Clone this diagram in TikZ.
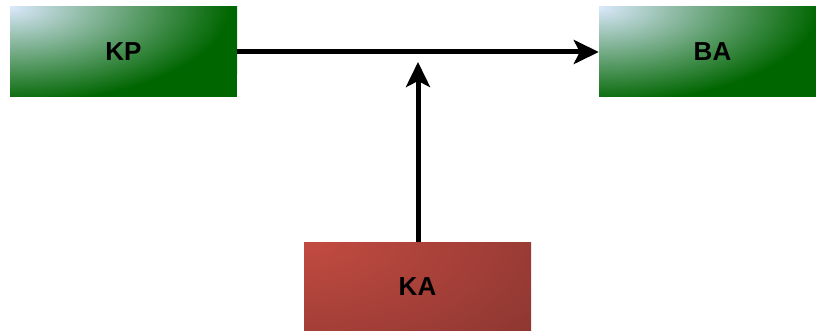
\documentclass[tikz,border=0pt]{standalone}
\usepackage{fontspec}
\setmainfont{Liberation Sans}
\usetikzlibrary{arrows.meta}
\definecolor{glight}{HTML}{DAE8FC}
\definecolor{gdark}{HTML}{006600}
\definecolor{rlight}{HTML}{C24B41}
\definecolor{rdark}{HTML}{8C3631}
\pgfdeclareradialshading{gsh}{\pgfpoint{0bp}{0bp}}{color(0bp)=(glight); color(20bp)=(gdark); color(50bp)=(gdark)}
\pgfdeclareradialshading{rsh}{\pgfpoint{0bp}{0bp}}{color(0bp)=(rlight); color(25bp)=(rdark); color(50bp)=(rdark)}
\tikzset{
  gbox/.style={minimum width=227pt, minimum height=90pt, inner sep=0pt,
    fill=gdark, font=\fontsize{26}{28}\selectfont\bfseries,
    path picture={\shade[shading=gsh]
      (path picture bounding box.north west) ellipse [x radius=275pt, y radius=120pt];}},
  rbox/.style={minimum width=227pt, minimum height=89pt, inner sep=0pt,
    fill=rdark, font=\fontsize{26}{28}\selectfont\bfseries,
    path picture={\shade[shading=rsh]
      (path picture bounding box.north west) ellipse [x radius=300pt, y radius=150pt];}},
  conn/.style={line width=5pt, -{Stealth[length=25pt, width=24pt, inset=6pt]}}
}
\begin{document}
\begin{tikzpicture}[x=1pt,y=1pt]
\useasboundingbox (0,0) rectangle (816,-331);
\clip (0,0) rectangle (816,-331);
\node[gbox] (kp) at (123.5,-52) {KP};
\node[gbox] (ba) at (712.5,-52) {BA};
\node[rbox] (ka) at (417.5,-286.5) {KA};
\coordinate (tip) at (418,-62);
\draw[conn] (kp.east) -- (ba.west);
\draw[conn] (ka.north -| tip) -- (tip);
\end{tikzpicture}
\end{document}
